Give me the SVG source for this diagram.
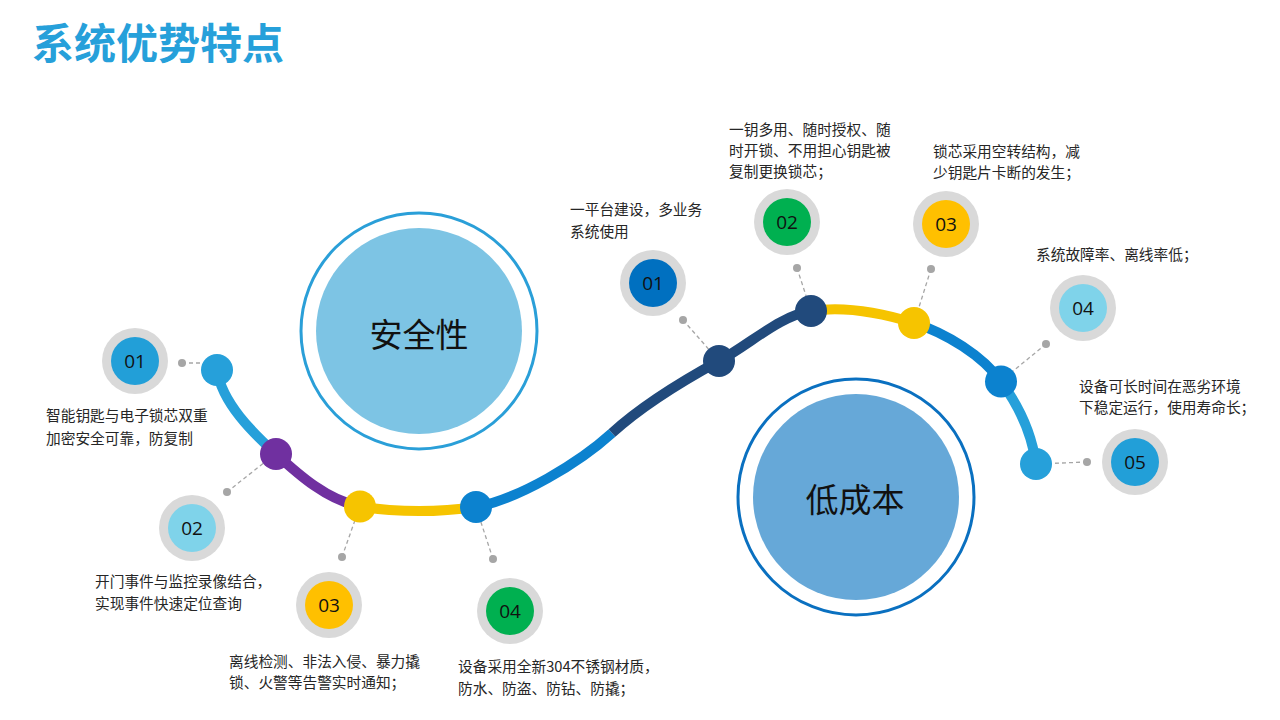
<svg xmlns="http://www.w3.org/2000/svg" width="1280" height="720" viewBox="0 0 1280 720">
<style>
.lbl{font-family:"Noto Sans CJK SC","Liberation Sans",sans-serif;font-size:14.7px;fill:#262626;dominant-baseline:central}
.num{font-family:"Open Sans","Liberation Sans",sans-serif;font-size:19px;fill:#111;text-anchor:middle;dominant-baseline:central}
.big{font-family:"Noto Sans CJK SC","Liberation Sans",sans-serif;font-size:33px;fill:#111;text-anchor:middle;dominant-baseline:central}
.ring{fill:#D9D9D9}
.pin{fill:#A6A6A6}
.lead{stroke:#A6A6A6;stroke-width:1.3;stroke-dasharray:4 3;fill:none}
.seg{fill:none;stroke-width:10}
</style>
<rect width="1280" height="720" fill="#FFFFFF"/>
<g id="title">
<text x="32" y="40" font-family="'Noto Sans CJK SC','Liberation Sans',sans-serif" font-size="42" font-weight="bold" fill="#26A0DA" dominant-baseline="central">系统优势特点</text>
</g>
<g id="node-safety">
<circle cx="419" cy="331" r="118" fill="none" stroke="#2A9FD8" stroke-width="3"/>
<circle cx="419" cy="331" r="103" fill="#7DC4E4"/>
<text class="big" x="419" y="333">安全性</text>
</g>
<g id="node-cost">
<circle cx="856" cy="497" r="118" fill="none" stroke="#0A70C0" stroke-width="3"/>
<circle cx="856" cy="497" r="103" fill="#66A8D8"/>
<text class="big" x="855" y="498">低成本</text>
</g>
<g id="connectors">
<path class="seg" stroke="#26A0DA" d="M217,370 C222,403 253,433 276,454"/>
<path class="seg" stroke="#7030A0" d="M276,454 C299,475 327,500 360,506.5"/>
<path class="seg" stroke="#F6C400" d="M360,506.5 C395,512 434,513 476,507"/>
<path class="seg" stroke="#0C82CF" d="M476,507 C519,499 579,463 612,433"/>
<path class="seg" stroke="#214A7C" d="M612,433 C645,403 686,379 719,361 C752,343 779,316 811,311"/>
<path class="seg" stroke="#F6C400" d="M811,311 C843,306 882,313 914,323"/>
<path class="seg" stroke="#0C82CF" d="M914,323 C946,333 983,356 1001,381.5"/>
<path class="seg" stroke="#26A0DA" d="M1001,381.5 C1019,406 1032,434 1036,464"/>
<path class="lead" d="M182,363 L222,363"/>
<path class="lead" d="M227,492 L275,454"/>
<path class="lead" d="M342,557 L360,506"/>
<path class="lead" d="M493,559 L476,507"/>
<path class="lead" d="M683,320 L719,361"/>
<path class="lead" d="M797,268 L811,311"/>
<path class="lead" d="M931,269 L914,323"/>
<path class="lead" d="M1046,344 L1001,381"/>
<path class="lead" d="M1087,462 L1036,464"/>
</g>
<g id="left-01">
<circle cx="217" cy="370" r="16" fill="#26A0DA"/>
<circle class="pin" cx="182" cy="363" r="4"/>
<circle class="ring" cx="135" cy="361" r="33"/>
<circle cx="135" cy="361" r="24" fill="#229FD8"/>
<text class="num" x="135" y="361">01</text>
<text class="lbl" x="46" y="414">智能钥匙与电子锁芯双重</text>
<text class="lbl" x="46" y="437">加密安全可靠，防复制</text>
</g>
<g id="left-02">
<circle cx="276" cy="454" r="16" fill="#7030A0"/>
<circle class="pin" cx="227" cy="492" r="4"/>
<circle class="ring" cx="192" cy="528" r="33"/>
<circle cx="192" cy="528" r="24" fill="#7FD3EA"/>
<text class="num" x="192" y="528">02</text>
<text class="lbl" x="95" y="580">开门事件与监控录像结合，</text>
<text class="lbl" x="95" y="602">实现事件快速定位查询</text>
</g>
<g id="left-03">
<circle cx="360" cy="506.5" r="16" fill="#F6C400"/>
<circle class="pin" cx="342" cy="557" r="4"/>
<circle class="ring" cx="329" cy="605" r="33"/>
<circle cx="329" cy="605" r="24" fill="#FFC000"/>
<text class="num" x="329" y="605">03</text>
<text class="lbl" x="229" y="660">离线检测、非法入侵、暴力撬</text>
<text class="lbl" x="229" y="681">锁、火警等告警实时通知；</text>
</g>
<g id="left-04">
<circle cx="476" cy="507" r="16" fill="#0C82CF"/>
<circle class="pin" cx="493" cy="559" r="4"/>
<circle class="ring" cx="510" cy="611" r="33"/>
<circle cx="510" cy="611" r="24" fill="#00B050"/>
<text class="num" x="510" y="611">04</text>
<text class="lbl" x="458" y="665">设备采用全新304不锈钢材质，</text>
<text class="lbl" x="458" y="687">防水、防盗、防钻、防撬；</text>
</g>
<g id="right-01">
<circle cx="719" cy="361" r="16" fill="#214A7C"/>
<circle class="pin" cx="683" cy="320" r="4"/>
<circle class="ring" cx="653" cy="283" r="33"/>
<circle cx="653" cy="283" r="24" fill="#0070C0"/>
<text class="num" x="653" y="283">01</text>
<text class="lbl" x="570" y="208">一平台建设，多业务</text>
<text class="lbl" x="570" y="230">系统使用</text>
</g>
<g id="right-02">
<circle cx="811" cy="311" r="16" fill="#214A7C"/>
<circle class="pin" cx="797" cy="268" r="4"/>
<circle class="ring" cx="787" cy="222" r="33"/>
<circle cx="787" cy="222" r="24" fill="#00B050"/>
<text class="num" x="787" y="222">02</text>
<text class="lbl" x="729" y="128">一钥多用、随时授权、随</text>
<text class="lbl" x="729" y="149">时开锁、不用担心钥匙被</text>
<text class="lbl" x="729" y="170">复制更换锁芯；</text>
</g>
<g id="right-03">
<circle cx="914" cy="323" r="16" fill="#F6C400"/>
<circle class="pin" cx="931" cy="269" r="4"/>
<circle class="ring" cx="946" cy="224" r="33"/>
<circle cx="946" cy="224" r="24" fill="#FFC000"/>
<text class="num" x="946" y="224">03</text>
<text class="lbl" x="933" y="150">锁芯采用空转结构，减</text>
<text class="lbl" x="933" y="171">少钥匙片卡断的发生；</text>
</g>
<g id="right-04">
<circle cx="1001" cy="381.5" r="16" fill="#0C82CF"/>
<circle class="pin" cx="1046" cy="344" r="4"/>
<circle class="ring" cx="1083" cy="308" r="33"/>
<circle cx="1083" cy="308" r="24" fill="#7FD3EA"/>
<text class="num" x="1083" y="308">04</text>
<text class="lbl" x="1036" y="253">系统故障率、离线率低；</text>
</g>
<g id="right-05">
<circle cx="1036" cy="464" r="16" fill="#26A0DA"/>
<circle class="pin" cx="1087" cy="462" r="4"/>
<circle class="ring" cx="1135" cy="462" r="33"/>
<circle cx="1135" cy="462" r="24" fill="#229FD8"/>
<text class="num" x="1135" y="462">05</text>
<text class="lbl" x="1079" y="385">设备可长时间在恶劣环境</text>
<text class="lbl" x="1079" y="406">下稳定运行，使用寿命长；</text>
</g>
</svg>
